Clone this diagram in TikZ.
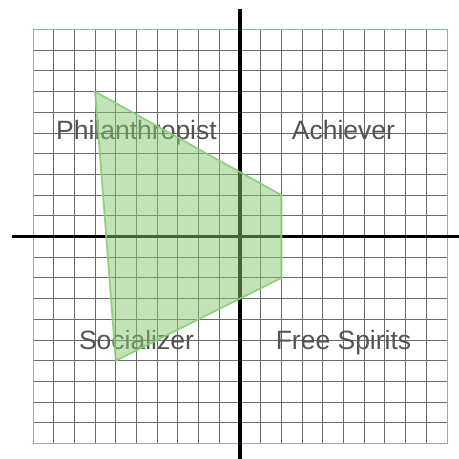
\documentclass[tikz,border=0pt]{standalone}
\usepackage{fontspec}
\setmainfont{Liberation Sans}
\definecolor{regionfill}{RGB}{135,200,115}
\definecolor{regionedge}{RGB}{140,205,120}
\definecolor{gridborder}{RGB}{140,170,215}
\begin{document}
\begin{tikzpicture}[x=20.7pt,y=20.7pt,
  gridline/.style={draw=black!58, line width=0.8pt},
  axisline/.style={draw=black, line width=3.6pt},
  quadlabel/.style={text=black!67, font=\fontsize{26.5}{30}\selectfont, inner sep=0pt, anchor=base},
  region/.style={draw=regionedge, fill=regionfill, fill opacity=0.5, draw opacity=0.9, line width=1.8pt, line join=round}]
\useasboundingbox[fill=white] (-11.594,-10.749) rectangle (10.580,11.425);
\draw[gridline, step=20.7pt] (-10,-10) grid (10,10);
\draw[draw=gridborder, line width=0.9pt] (-10,-10) rectangle (10,10);
\coordinate (vt) at (0,11);
\coordinate (vb) at (0,-10.749);
\coordinate (hl) at (-11,0);
\coordinate (hr) at (10.58,0);
\draw[axisline] (vt) -- (vb);
\draw[axisline] (hl) -- (hr);
\node[quadlabel] (phil) at (-5,4.69) {Philanthropist};
\node[quadlabel] (ach) at (5,4.69) {Achiever};
\node[quadlabel] (soc) at (-5,-5.45) {Socializer};
\node[quadlabel] (free) at (5,-5.45) {Free Spirits};
\coordinate (p1) at (-7,7);
\coordinate (p2) at (2,2);
\coordinate (p3) at (2,-2);
\coordinate (p4) at (-6,-6);
\draw[region] (p1) -- (p2) -- (p3) -- (p4) -- cycle;
\end{tikzpicture}
\end{document}
